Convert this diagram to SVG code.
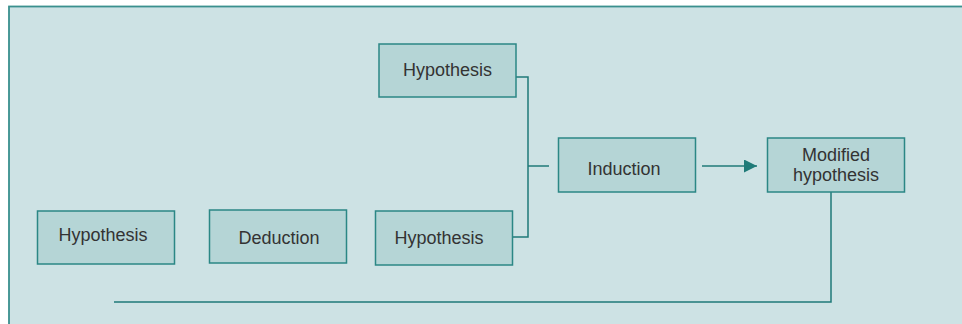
<svg xmlns="http://www.w3.org/2000/svg" width="962" height="324" viewBox="0 0 962 324">
<defs>
<style>
.box{fill:#b5d5d6;stroke:#2b8785;stroke-width:1.5}
.t{font-family:"Liberation Sans",Arial,sans-serif;font-size:18px;fill:#333;text-anchor:middle}
.c{fill:none;stroke:#1f7a78;stroke-width:1.5}
</style>
<marker id="ah" viewBox="0 0 10 10" refX="10" refY="5" markerWidth="17" markerHeight="13" markerUnits="userSpaceOnUse" orient="auto"><path d="M0,0L10,5L0,10z" fill="#1f7a78"/></marker>
</defs>
<rect x="0" y="0" width="962" height="324" fill="#fff"/>
<rect x="9" y="6.5" width="960" height="330" fill="#cde2e4" stroke="#3a908e" stroke-width="1.8"/>
<g id="connectors">
<path class="c" d="M516,77H528V237H512"/>
<path class="c" d="M528,166H549"/>
<path class="c" d="M702,166H757" marker-end="url(#ah)"/>
<path class="c" d="M831,192V302H114" stroke="#2b8785"/>
</g>
<g id="hyp-top"><rect class="box" x="379" y="44" width="137" height="53"/><text class="t" x="447.5" y="75.5">Hypothesis</text></g>
<g id="hyp-bottom"><rect class="box" x="375.5" y="211" width="137" height="54"/><text class="t" x="439" y="244">Hypothesis</text></g>
<g id="hyp-left"><rect class="box" x="37.5" y="211" width="137" height="53"/><text class="t" x="103" y="241">Hypothesis</text></g>
<g id="deduction"><rect class="box" x="209.5" y="210" width="137" height="53"/><text class="t" x="279" y="243.5">Deduction</text></g>
<g id="induction"><rect class="box" x="558.5" y="138" width="137" height="54"/><text class="t" x="624" y="175">Induction</text></g>
<g id="modified"><rect class="box" x="767.5" y="138" width="137" height="54"/><text class="t" x="836" y="161">Modified</text><text class="t" x="836" y="181">hypothesis</text></g>
</svg>
